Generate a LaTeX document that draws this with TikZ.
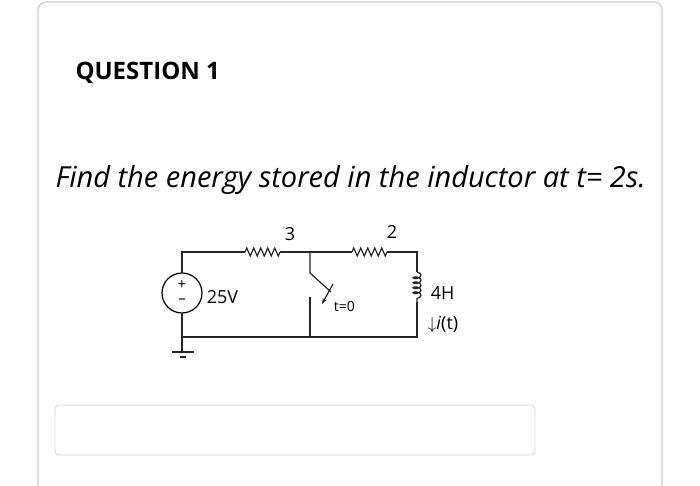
\documentclass[tikz,border=0pt]{standalone}
\usepackage{fontspec}
\setmainfont{Open Sans}
\usetikzlibrary{decorations.pathmorphing,arrows.meta}
\begin{document}
\begin{tikzpicture}[x=1pt,y=-1pt,line width=1pt,
  wire/.style={line width=1.2pt,black!85},
  lbl/.style={font=\fontsize{18}{20}\selectfont}]
\useasboundingbox (0,0) rectangle (700,486);
\draw[gray!40,line width=1.2pt,rounded corners=8pt] (38,500) -- (38,2) -- (662,2) -- (662,500);
\node[anchor=west,font=\bfseries\fontsize{24}{26}\selectfont,inner sep=0pt] (title) at (75,73) {QUESTION 1};
\node[anchor=west,font=\itshape\fontsize{29}{32}\selectfont,inner sep=0pt] (q) at (55,180) {Find the energy stored in the inductor at t= 2s.};
\draw[gray!35,line width=0.8pt,rounded corners=4pt] (55,405) rectangle (535,455);
\coordinate (tl) at (182,252); \coordinate (tm) at (310,252); \coordinate (tr) at (417,252);
\coordinate (bl) at (182,337); \coordinate (bm) at (310,337); \coordinate (br) at (417,337);
\draw[line width=1.2pt] (182,293) circle[radius=20];
\node[inner sep=0pt,minimum size=40pt,circle] (vs) at (182,293) {};
\node[font=\fontsize{15}{15}\selectfont,inner sep=0pt] (vp) at (182,285) {+};
\node[font=\fontsize{15}{15}\selectfont,inner sep=0pt] (vm) at (182,301) {--};
\node[lbl,anchor=west] (v) at (203,297) {25V};
\draw[wire] (182,273) -- (tl) -- (245,252);
\draw[wire,decorate,decoration={zigzag,segment length=7pt,amplitude=4pt}] (245,252) -- (280,252);
\draw[wire] (280,252) -- (tm) -- (352,252);
\draw[wire,decorate,decoration={zigzag,segment length=7pt,amplitude=4pt}] (352,252) -- (387,252);
\node[lbl] (r1) at (290,234) {3};
\node[lbl] (r2) at (392,232) {2};
\draw[wire] (387,252) -- (tr) -- (417,272);
\draw[wire,decorate,decoration={coil,aspect=0.5,segment length=5pt,amplitude=4pt}] (417,272) -- (417,302);
\draw[wire] (417,302) -- (br) -- (bl) -- (182,313);
\node[lbl,anchor=west] (l) at (427,293) {4H};
\node[lbl,anchor=west] (i) at (424,325) {$\downarrow$\textit{i}(t)};
\draw[wire] (tm) -- (310,273) -- (331,292);
\draw[wire,-{Stealth[length=6pt]}] (333,284) -- (322,304);
\node[font=\fontsize{14}{14}\selectfont,anchor=west] (t0) at (330,306) {t=0};
\draw[wire] (310,297) -- (bm);
\draw[wire] (bl) -- (182,352);
\draw[wire] (172,352) -- (194,352);
\draw[wire] (180,357) -- (186,357);
\end{tikzpicture}
\end{document}
